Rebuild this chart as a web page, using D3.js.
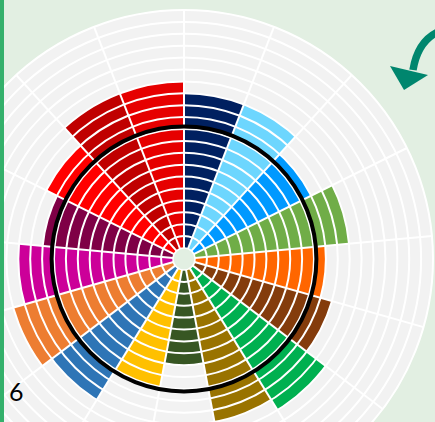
<!DOCTYPE html>
<html lang="en">
<head>
	<meta charset="UTF-8">
	<title>Radial bars</title>
	<style>
		html, body { margin: 0; padding: 0; background: #e2efe2; overflow: hidden; }
		svg { display: block; }
	</style>
</head>
<body>
	<script src="https://cdn.jsdelivr.net/npm/d3@7"></script>
	<script>
		// one sector per goal, clockwise from 12 o'clock
		var categories = ["G1","G2","G3","G4","G5","G6","G7","G8","G9","G10","G11","G12","G13","G14","G15","G16","G17"];
		var values = [13, 13, 11, 13, 11, 12, 14, 13, 8, 10, 13, 14, 13, 11, 12, 14, 14];
		var colors = ["#002060","#6dd6fe","#0099ff","#70ad47","#ff6600","#843c0c","#00b050","#997300",
			"#375623","#ffc000","#2e75b6","#ed7d31","#cc0099","#7f0046","#ff0000","#c00000","#e60000"];
		var maxValue = 20;
		var refValue = 10.2;
		var pageLabel = "6";

		var width = 435,
			height = 422,
			cx = 184,
			cy = 259,
			innerR = 11,
			outerR = 249;

		var r = d3.scaleLinear()
				.domain([0, maxValue])
				.range([innerR, outerR]);

		var angle = d3.scaleBand()
				.domain(categories)
				.range([0, 2 * Math.PI]);

		var svg = d3.select("body").append("svg")
			.attr("width", width)
			.attr("height", height);

		svg.append("rect")
			.attr("width", width)
			.attr("height", height)
			.attr("fill", "#e2efe2");

		var g = svg.append("g")
			.attr("transform", "translate(" + cx + "," + cy + ")");

		// grey background disc
		g.append("circle")
			.attr("r", r(maxValue))
			.attr("fill", "#f2f2f2");

		// stacked unit segments
		var arc = d3.arc();
		var segs = [];
		categories.forEach(function(c, i){
			d3.range(values[i]).forEach(function(k){
				segs.push({cat: c, k: k, color: colors[i]});
			});
		});

		g.selectAll("path.seg")
			.data(segs)
			.enter()
			.append("path")
			.attr("class", "seg")
			.attr("d", function(d){
				return arc({
					innerRadius: r(d.k),
					outerRadius: r(d.k + 1),
					startAngle: angle(d.cat),
					endAngle: angle(d.cat) + angle.bandwidth()
				});
			})
			.attr("fill", function(d){ return d.color; });

		// white grid rings
		g.selectAll("circle.ring")
			.data(d3.range(1, maxValue + 1))
			.enter()
			.append("circle")
			.attr("class", "ring")
			.attr("r", function(d){ return r(d); })
			.attr("fill", "none")
			.attr("stroke", "#ffffff")
			.attr("stroke-width", 2);

		// white spokes
		g.selectAll("line.spoke")
			.data(categories)
			.enter()
			.append("line")
			.attr("class", "spoke")
			.attr("x1", function(d){ return Math.sin(angle(d)) * r(0); })
			.attr("y1", function(d){ return -Math.cos(angle(d)) * r(0); })
			.attr("x2", function(d){ return Math.sin(angle(d)) * r(maxValue); })
			.attr("y2", function(d){ return -Math.cos(angle(d)) * r(maxValue); })
			.attr("stroke", "#ffffff")
			.attr("stroke-width", 2);

		// hub
		g.append("circle")
			.attr("r", r(0))
			.attr("fill", "#e2efe2")
			.attr("stroke", "#ffffff")
			.attr("stroke-width", 1.5);

		// reference ring
		g.append("circle")
			.attr("r", r(refValue))
			.attr("fill", "none")
			.attr("stroke", "#000000")
			.attr("stroke-width", 4);

		// left accent bar
		svg.append("rect")
			.attr("x", 0)
			.attr("y", 0)
			.attr("width", 4)
			.attr("height", height)
			.attr("fill", "#34b06b");

		// curved arrow top right
		svg.append("path")
			.attr("d", "M440,31 Q418,40 413,70")
			.attr("fill", "none")
			.attr("stroke", "#00866e")
			.attr("stroke-width", 7.5);
		svg.append("path")
			.attr("d", "M390,66 L428,75 L404,90 Z")
			.attr("fill", "#00866e");

		svg.append("text")
			.attr("x", 9)
			.attr("y", 401)
			.attr("font-family", "Lato, 'Open Sans', sans-serif")
			.attr("font-size", 25)
			.attr("fill", "#000000")
			.text(pageLabel);
	</script>
</body>
</html>
